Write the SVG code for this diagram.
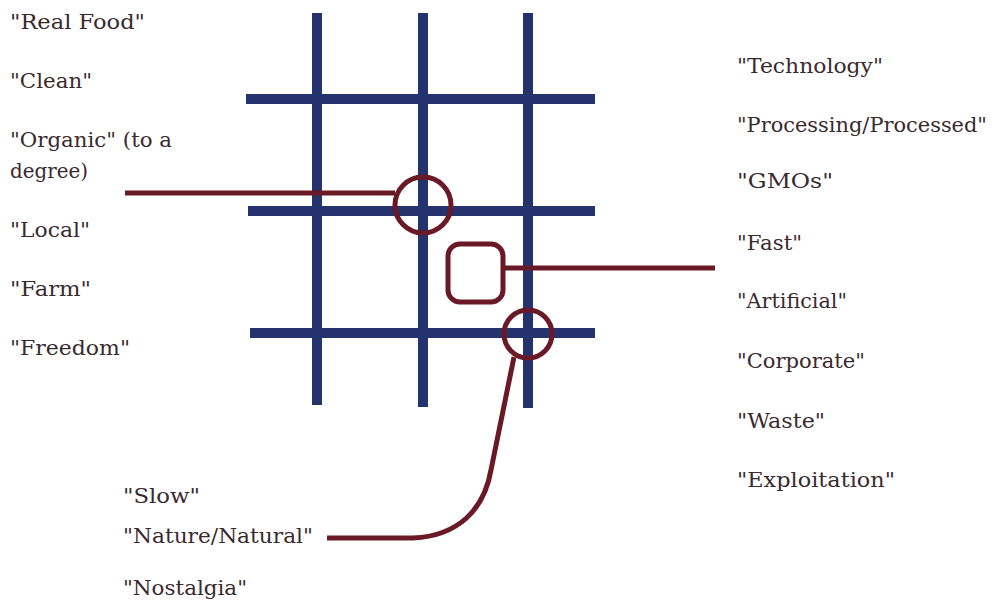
<svg xmlns="http://www.w3.org/2000/svg" width="999" height="612" viewBox="0 0 999 612">
<style>
.t{font-family:"DejaVu Serif","Liberation Serif",serif;font-size:20px;fill:#3a2a2e}
.g{stroke:#24326e;stroke-width:10;fill:none}
.r{stroke:#6a1a26;stroke-width:5;fill:none}
</style>
<rect width="999" height="612" fill="#ffffff"/>
<g id="grid">
<line class="g" x1="317" y1="13" x2="317" y2="405"/>
<line class="g" x1="423" y1="13" x2="423" y2="407"/>
<line class="g" x1="528" y1="13" x2="528" y2="408"/>
<line class="g" x1="246" y1="99" x2="595" y2="99"/>
<line class="g" x1="248" y1="211" x2="595" y2="211"/>
<line class="g" x1="250" y1="333" x2="595" y2="333"/>
</g>
<g id="marker-circle-1"><circle class="r" cx="423" cy="205" r="28"/></g>
<g id="marker-square"><rect class="r" x="448" y="244" width="55" height="58" rx="12"/></g>
<g id="marker-circle-2"><circle class="r" cx="528" cy="334" r="24"/></g>
<g id="connectors">
<line class="r" x1="125" y1="193" x2="395" y2="193"/>
<line class="r" x1="503" y1="268" x2="715" y2="268"/>
<path class="r" d="M327 538 L413 538 C458 536 484 510 491 470 L514 357"/>
</g>
<g id="left-labels">
<text class="t" x="10" y="29" textLength="135" lengthAdjust="spacingAndGlyphs">"Real Food"</text>
<text class="t" x="10" y="88" textLength="82" lengthAdjust="spacingAndGlyphs">"Clean"</text>
<text class="t" x="10" y="147" textLength="162" lengthAdjust="spacingAndGlyphs">"Organic" (to a</text>
<text class="t" x="10" y="178" textLength="78" lengthAdjust="spacingAndGlyphs">degree)</text>
<text class="t" x="10" y="237" textLength="80" lengthAdjust="spacingAndGlyphs">"Local"</text>
<text class="t" x="10" y="296" textLength="81" lengthAdjust="spacingAndGlyphs">"Farm"</text>
<text class="t" x="10" y="355" textLength="120" lengthAdjust="spacingAndGlyphs">"Freedom"</text>
</g>
<g id="right-labels">
<text class="t" x="737" y="73" textLength="146" lengthAdjust="spacingAndGlyphs">"Technology"</text>
<text class="t" x="737" y="132" textLength="250" lengthAdjust="spacingAndGlyphs">"Processing/Processed"</text>
<text class="t" x="737" y="188" textLength="96" lengthAdjust="spacingAndGlyphs">"GMOs"</text>
<text class="t" x="737" y="250" textLength="65" lengthAdjust="spacingAndGlyphs">"Fast"</text>
<text class="t" x="737" y="308" textLength="110" lengthAdjust="spacingAndGlyphs">"Artificial"</text>
<text class="t" x="737" y="368" textLength="128" lengthAdjust="spacingAndGlyphs">"Corporate"</text>
<text class="t" x="737" y="428" textLength="88" lengthAdjust="spacingAndGlyphs">"Waste"</text>
<text class="t" x="737" y="487" textLength="158" lengthAdjust="spacingAndGlyphs">"Exploitation"</text>
</g>
<g id="bottom-labels">
<text class="t" x="123" y="503" textLength="77" lengthAdjust="spacingAndGlyphs">"Slow"</text>
<text class="t" x="123" y="543" textLength="190" lengthAdjust="spacingAndGlyphs">"Nature/Natural"</text>
<text class="t" x="123" y="595" textLength="124" lengthAdjust="spacingAndGlyphs">"Nostalgia"</text>
</g>
</svg>
